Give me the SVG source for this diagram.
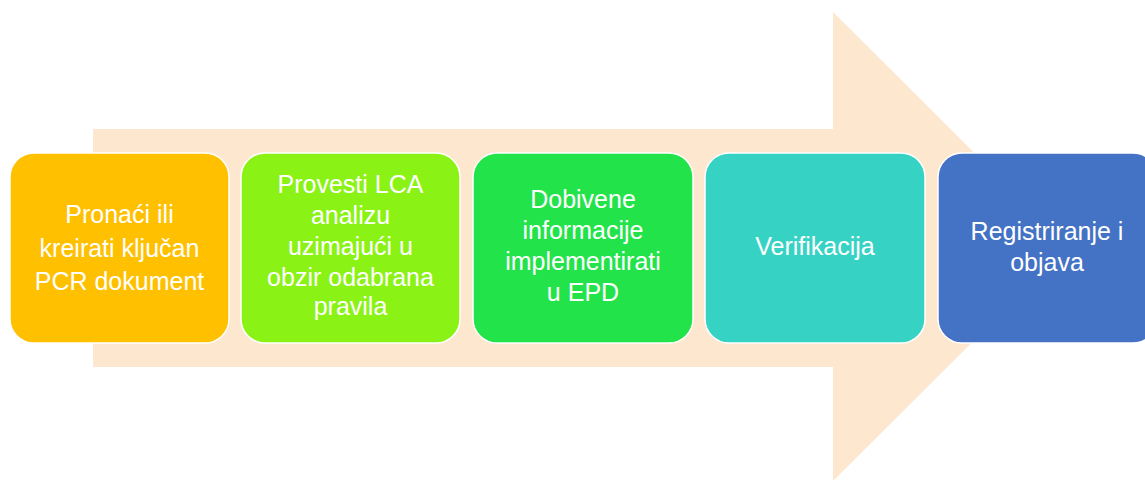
<svg xmlns="http://www.w3.org/2000/svg" width="1145" height="482" viewBox="0 0 1145 482">
<style>
.box{stroke:#ffffff;stroke-width:1.5}
.t{font-family:"Liberation Sans",Arial,sans-serif;font-size:25px;fill:#ffffff;text-anchor:middle}
</style>
<rect width="1145" height="482" fill="#ffffff"/>
<g id="arrow">
<polygon points="93,129 833,129 833,12 1068,246.5 833,481 833,367 93,367" fill="#fde7cf"/>
</g>
<g id="node1">
<rect class="box" x="10" y="153" width="219" height="190" rx="24" fill="#ffc000"/>
<text class="t" x="119.5" y="223">Pronaći ili</text>
<text class="t" x="119.5" y="257">kreirati ključan</text>
<text class="t" x="119.5" y="290">PCR dokument</text>
</g>
<g id="node2">
<rect class="box" x="241" y="153" width="219" height="190" rx="24" fill="#8af215"/>
<text class="t" x="350.5" y="193">Provesti LCA</text>
<text class="t" x="350.5" y="224">analizu</text>
<text class="t" x="350.5" y="255">uzimajući u</text>
<text class="t" x="350.5" y="286">obzir odabrana</text>
<text class="t" x="350.5" y="315">pravila</text>
</g>
<g id="node3">
<rect class="box" x="473" y="153" width="220" height="190" rx="24" fill="#23e34b"/>
<text class="t" x="583" y="208">Dobivene</text>
<text class="t" x="583" y="239">informacije</text>
<text class="t" x="583" y="270">implementirati</text>
<text class="t" x="583" y="301">u EPD</text>
</g>
<g id="node4">
<rect class="box" x="705" y="153" width="220" height="190" rx="24" fill="#36d3c4"/>
<text class="t" x="815" y="255">Verifikacija</text>
</g>
<g id="node5">
<rect class="box" x="938" y="153" width="219" height="190" rx="24" fill="#4472c4"/>
<text class="t" x="1047" y="240">Registriranje i</text>
<text class="t" x="1047" y="271">objava</text>
</g>
<g id="connectors"></g>
</svg>
